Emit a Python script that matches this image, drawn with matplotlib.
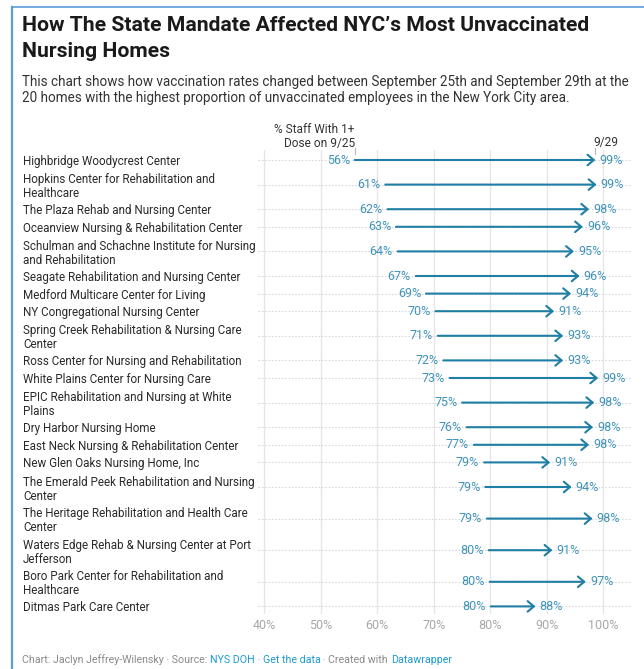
import matplotlib
matplotlib.use("Agg")
import matplotlib.pyplot as plt
from matplotlib.lines import Line2D
import matplotlib.transforms as mtransforms

plt.rcParams['font.family'] = ['Roboto', 'DejaVu Sans']

homes = [
    "Highbridge Woodycrest Center",
    "Hopkins Center for Rehabilitation and\nHealthcare",
    "The Plaza Rehab and Nursing Center",
    "Oceanview Nursing & Rehabilitation Center",
    "Schulman and Schachne Institute for Nursing\nand Rehabilitation",
    "Seagate Rehabilitation and Nursing Center",
    "Medford Multicare Center for Living",
    "NY Congregational Nursing Center",
    "Spring Creek Rehabilitation & Nursing Care\nCenter",
    "Ross Center for Nursing and Rehabilitation",
    "White Plains Center for Nursing Care",
    "EPIC Rehabilitation and Nursing at White\nPlains",
    "Dry Harbor Nursing Home",
    "East Neck Nursing & Rehabilitation Center",
    "New Glen Oaks Nursing Home, Inc",
    "The Emerald Peek Rehabilitation and Nursing\nCenter",
    "The Heritage Rehabilitation and Health Care\nCenter",
    "Waters Edge Rehab & Nursing Center at Port\nJefferson",
    "Boro Park Center for Rehabilitation and\nHealthcare",
    "Ditmas Park Care Center",
]
# % staff with 1+ dose on 9/25 and 9/29
pct_0925 = [56.0, 61.4, 61.8, 63.3, 63.6, 66.8, 68.6, 70.3, 70.7, 71.7,
            72.8, 75.0, 75.8, 77.1, 78.9, 79.1, 79.4, 79.7, 79.9, 80.1]
pct_0929 = [98.6, 98.8, 97.5, 96.4, 94.8, 95.8, 94.3, 91.3, 92.9, 92.9,
            99.1, 98.4, 98.2, 97.5, 90.6, 94.4, 98.1, 91.0, 96.9, 88.0]
x_ticks = [40, 50, 60, 70, 80, 90, 100]

W, H = 644, 669
ARROW = '#1f7ea5'
VALUE = '#3f93bb'
LINK = '#1d9ad2'

fig = plt.figure(figsize=(W / 100, H / 100), dpi=100)
fig.patch.set_facecolor('white')


def fx(px):
    return px / W


def fy(py):
    return 1 - py / H


# frame lines on the left and top
fig.add_artist(Line2D([fx(12), fx(12)], [fy(7), 0], color='#5b9bd8', lw=1.6))
fig.add_artist(Line2D([fx(12), 1], [fy(7), fy(7)], color='#5b9bd8', lw=1.2))

# title and description
fig.text(fx(22), fy(38.5), "How The State Mandate Affected NYC\u2019s Most Unvaccinated\nNursing Homes",
         fontsize=15.2, fontweight='bold', color='#1a1a1a', va='center', ha='left',
         linespacing=1.5)
fig.text(fx(22), fy(90), "This chart shows how vaccination rates changed between September 25th and September 29th at the\n"
         "20 homes with the highest proportion of unvaccinated employees in the New York City area.",
         fontsize=9.75, color='#333333', va='center', ha='left', linespacing=1.2)

# row layout: taller rows for wrapped names
row_h = {1: 17.6, 2: 31.6}
lines = [h.count('\n') + 1 for h in homes]
ys = [160.0]
for i in range(1, len(homes)):
    ys.append(ys[-1] + (row_h[lines[i - 1]] + row_h[lines[i]]) / 2)

ax_l, ax_r, ax_t, ax_b = 258, 632, 150, 614
ax = fig.add_axes([fx(ax_l), fy(ax_b), fx(ax_r - ax_l), (ax_b - ax_t) / H])
px_per = (603.3 - 264.3) / 60
ax.set_xlim(40 - (264.3 - ax_l) / px_per, 100 + (ax_r - 603.3) / px_per)
ax.set_ylim(ax_b, ax_t)
for s in ax.spines.values():
    s.set_visible(False)

for t in x_ticks:
    ax.axvline(t, color='#e6e6e6', lw=1.0, zorder=0)
for y in ys:
    ax.axhline(y, color='#d9d9d9', lw=0.8, ls=(0, (1.5, 1.5)), zorder=0)

ax.set_xticks(x_ticks)
ax.set_xticklabels([f"{t}%" for t in x_ticks], fontsize=9, color='#a8a8a8')
ax.tick_params(axis='x', length=0, pad=3.5)
ax.set_yticks(ys)
ax.set_yticklabels(homes, fontsize=8.4, color='#2a2a2a', ha='left', linespacing=1.1)
ax.tick_params(axis='y', length=0, pad=(ax_l - 23) * 0.72)

for y, a, b in zip(ys, pct_0925, pct_0929):
    ax.annotate('', xy=(b, y), xytext=(a, y),
                arrowprops=dict(arrowstyle='->,head_length=0.45,head_width=0.38',
                                color=ARROW, lw=1.5, shrinkA=0, shrinkB=0))
    ax.annotate(f"{a:.0f}%", xy=(a, y), xytext=(-3.5, 0), textcoords='offset points',
                ha='right', va='center', fontsize=9, color=VALUE)
    ax.annotate(f"{b:.0f}%", xy=(b, y), xytext=(3, 0), textcoords='offset points',
                ha='left', va='center', fontsize=9, color=VALUE)

# column headers above first row
tr = mtransforms.blended_transform_factory(ax.transData, fig.transFigure)
ax.text(pct_0925[0], fy(136.5), "% Staff With 1+\nDose on 9/25", transform=tr,
        ha='right', va='center', fontsize=8.6, color='#333333', linespacing=1.15)
ax.text(pct_0929[0] - 0.3, fy(142.5), "9/29", transform=tr,
        ha='left', va='center', fontsize=8.6, color='#333333')
for xv in (pct_0925[0], pct_0929[0]):
    ax.add_artist(Line2D([xv, xv], [fy(148), fy(154)], transform=tr,
                         color='#bbbbbb', lw=0.9, clip_on=False))

# footer with coloured link words
parts = [("Chart: Jaclyn Jeffrey-Wilensky \u00b7 Source: ", '#8a8a8a'),
         ("NYS DOH", LINK), (" \u00b7 ", '#8a8a8a'), ("Get the data", LINK),
         (" \u00b7 Created with ", '#8a8a8a'), ("Datawrapper", LINK)]
renderer = fig.canvas.get_renderer()
x = 22
for txt, col in parts:
    t = fig.text(fx(x), fy(660), txt, fontsize=7.7, color=col, va='center', ha='left')
    x += t.get_window_extent(renderer).width

fig.savefig('out.png', dpi=100)
